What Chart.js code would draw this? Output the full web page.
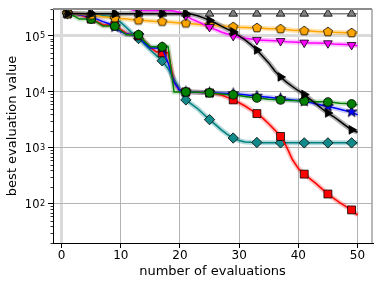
<!DOCTYPE html>
<html>
<head>
<meta charset="UTF-8">
<title>best evaluation value</title>
<script src="https://cdn.jsdelivr.net/npm/chart.js"></script>
<style>
  html, body { margin: 0; padding: 0; background: #fff; }
  #wrap { width: 381px; height: 286px; }
</style>
</head>
<body>
<div id="wrap"><canvas id="chart" width="381" height="286"></canvas></div>
<script>
// number of evaluations (x)
const evaluations = [1, 2, 3, 4, 5, 6, 7, 8, 9, 10, 11, 12, 13, 14, 15, 16, 17, 18, 19, 20,
  21, 22, 23, 24, 25, 26, 27, 28, 29, 30, 31, 32, 33, 34, 35, 36, 37, 38, 39, 40,
  41, 42, 43, 44, 45, 46, 47, 48, 49, 50];

// best value so far, one list per method
const grayVals = [2.5e5, 2.5e5, 2.5e5, 2.5e5, 2.5e5, 2.5e5, 2.5e5, 2.5e5, 2.5e5, 2.5e5,
  2.5e5, 2.5e5, 2.5e5, 2.5e5, 2.5e5, 2.5e5, 2.5e5, 2.5e5, 2.5e5, 2.5e5,
  2.5e5, 2.5e5, 2.5e5, 2.5e5, 2.5e5, 2.5e5, 2.5e5, 2.5e5, 2.5e5, 2.5e5,
  2.5e5, 2.5e5, 2.5e5, 2.5e5, 2.5e5, 2.5e5, 2.5e5, 2.5e5, 2.5e5, 2.5e5,
  2.5e5, 2.5e5, 2.5e5, 2.5e5, 2.5e5, 2.5e5, 2.5e5, 2.5e5, 2.5e5, 2.5e5];
const blackVals = [2.5e5, 2.5e5, 2.5e5, 2.5e5, 2.5e5, 2.5e5, 2.5e5, 2.5e5, 2.5e5, 2.5e5,
  2.5e5, 2.5e5, 2.5e5, 2.5e5, 2.5e5, 2.5e5, 2.5e5, 2.5e5, 2.5e5, 2.5e5,
  2.5e5, 2.45e5, 2.3e5, 2.1e5, 1.9e5, 1.7e5, 1.5e5, 1.32e5, 1.18e5, 1.0e5,
  8.5e4, 7.0e4, 5.6e4, 4.3e4, 3.3e4, 2.4e4, 1.85e4, 1.5e4, 1.25e4, 1.05e4,
  9.0e3, 7.4e3, 6.1e3, 5.0e3, 4.2e3, 3.6e3, 3.0e3, 2.5e3, 2.1e3, 1.9e3];
const magentaVals = [3.6e5, 3.6e5, 3.6e5, 3.6e5, 3.6e5, 3.6e5, 3.6e5, 3.6e5, 3.6e5, 3.6e5,
  3.6e5, 2.9e5, 2.85e5, 2.85e5, 2.85e5, 2.85e5, 2.85e5, 2.85e5, 2.8e5, 2.6e5,
  2.3e5, 2.0e5, 1.8e5, 1.6e5, 1.45e5, 1.3e5, 1.18e5, 1.08e5, 1.0e5, 9.5e4,
  9.1e4, 8.8e4, 8.5e4, 8.4e4, 8.3e4, 8.2e4, 8.1e4, 7.9e4, 7.8e4, 7.7e4,
  7.6e4, 7.5e4, 7.5e4, 7.4e4, 7.4e4, 7.2e4, 7.1e4, 7.0e4, 6.9e4, 6.7e4];
const orangeVals = [2.5e5, 2.5e5, 2.45e5, 2.4e5, 2.35e5, 2.3e5, 2.2e5, 2.15e5, 2.1e5, 2.05e5,
  2.0e5, 1.95e5, 1.9e5, 1.88e5, 1.85e5, 1.82e5, 1.8e5, 1.77e5, 1.74e5, 1.71e5,
  1.68e5, 1.65e5, 1.62e5, 1.6e5, 1.57e5, 1.54e5, 1.51e5, 1.48e5, 1.45e5, 1.43e5,
  1.42e5, 1.4e5, 1.39e5, 1.37e5, 1.35e5, 1.34e5, 1.33e5, 1.3e5, 1.27e5, 1.25e5,
  1.23e5, 1.22e5, 1.2e5, 1.19e5, 1.18e5, 1.16e5, 1.15e5, 1.14e5, 1.13e5, 1.12e5];
const greenVals = [2.5e5, 2.3e5, 2.0e5, 2.0e5, 2.0e5, 1.75e5, 1.5e5, 1.5e5, 1.5e5, 1.25e5,
  1.05e5, 1.05e5, 1.05e5, 8.0e4, 6.4e4, 6.4e4, 6.4e4, 6.4e4, 1.0e4, 1.0e4,
  1.0e4, 1.0e4, 9.9e3, 9.8e3, 9.6e3, 9.4e3, 9.2e3, 9.0e3, 8.9e3, 8.6e3,
  8.3e3, 8.0e3, 7.8e3, 7.6e3, 7.4e3, 7.3e3, 7.2e3, 7.1e3, 7.0e3, 6.95e3,
  6.9e3, 6.8e3, 6.7e3, 6.65e3, 6.6e3, 6.5e3, 6.3e3, 6.2e3, 6.1e3, 5.9e3];
const blueVals = [2.5e5, 2.5e5, 2.4e5, 2.3e5, 2.1e5, 2.0e5, 1.8e5, 1.65e5, 1.45e5, 1.2e5,
  1.08e5, 1.05e5, 1.02e5, 7.5e4, 6.1e4, 6.1e4, 6.1e4, 3.3e4, 1.5e4, 1.05e4,
  1.0e4, 1.0e4, 9.9e3, 9.8e3, 9.7e3, 9.6e3, 9.5e3, 9.4e3, 9.3e3, 9.1e3,
  8.9e3, 8.6e3, 8.4e3, 8.2e3, 8.0e3, 7.8e3, 7.6e3, 7.4e3, 7.2e3, 7.0e3,
  6.8e3, 6.5e3, 6.1e3, 5.8e3, 5.5e3, 5.2e3, 4.9e3, 4.6e3, 4.4e3, 3.9e3];
const redVals = [2.5e5, 2.5e5, 2.4e5, 2.2e5, 2.0e5, 1.8e5, 1.57e5, 1.57e5, 1.55e5, 1.3e5,
  1.1e5, 1.05e5, 1.0e5, 8.0e4, 6.2e4, 5.2e4, 5.0e4, 5.0e4, 1.5e4, 1.05e4,
  1.0e4, 1.0e4, 9.9e3, 9.8e3, 9.6e3, 9.3e3, 8.8e3, 8.0e3, 7.2e3, 6.4e3,
  5.6e3, 4.8e3, 4.1e3, 3.4e3, 2.7e3, 2.1e3, 1.6e3, 1.05e3, 620, 430,
  340, 280, 230, 185, 150, 125, 105, 90, 78, 63];
const tealVals = [2.5e5, 2.5e5, 2.5e5, 2.45e5, 2.4e5, 2.35e5, 2.3e5, 2.25e5, 2.1e5, 1.75e5,
  1.4e5, 1.1e5, 9.0e4, 7.2e4, 5.6e4, 4.5e4, 3.6e4, 2.6e4, 1.7e4, 1.1e4,
  7.2e3, 6.0e3, 5.0e3, 4.0e3, 3.2e3, 2.6e3, 2.1e3, 1.75e3, 1.5e3, 1.35e3,
  1.28e3, 1.26e3, 1.25e3, 1.23e3, 1.23e3, 1.23e3, 1.23e3, 1.23e3, 1.23e3, 1.23e3,
  1.23e3, 1.23e3, 1.23e3, 1.23e3, 1.23e3, 1.23e3, 1.23e3, 1.23e3, 1.23e3, 1.23e3];

const xTicks = [0, 10, 20, 30, 40, 50];
const yTicks = [1e2, 1e3, 1e4, 1e5];

const FONT = 'DejaVu Sans';

// custom marker images (pentagon, star)
function markerCanvas(size, fill, drawPath) {
  const c = document.createElement('canvas');
  c.width = size; c.height = size;
  const g = c.getContext('2d');
  g.translate(size / 2, size / 2);
  g.beginPath();
  drawPath(g);
  g.closePath();
  g.fillStyle = fill;
  g.fill();
  g.lineWidth = 0.8;
  g.strokeStyle = '#000';
  g.stroke();
  return c;
}
const pentagon = markerCanvas(12, '#ffa500', g => {
  for (let k = 0; k < 5; k++) {
    const a = -Math.PI / 2 + k * 2 * Math.PI / 5;
    g.lineTo(4.8 * Math.cos(a), 4.8 * Math.sin(a));
  }
});
const star = markerCanvas(13, '#0000ff', g => {
  for (let k = 0; k < 10; k++) {
    const a = -Math.PI / 2 + k * Math.PI / 5;
    const r = k % 2 === 0 ? 5.8 : 2.4;
    g.lineTo(r * Math.cos(a), r * Math.sin(a));
  }
});

// listed top-most first
const series = [
  { values: blackVals, color: '#000000', fill: '#000000', band: 'rgba(110,110,110,0.55)', style: 'triangle', rot: 90, r: 5 },
  { values: grayVals, color: '#808080', fill: '#808080', band: null, style: 'triangle', rot: 0, r: 5 },
  { values: magentaVals, color: '#ff00ff', fill: '#ff00ff', band: 'rgba(255,0,255,0.25)', style: 'triangle', rot: 180, r: 5 },
  { values: orangeVals, color: '#ffa500', fill: '#ffa500', band: 'rgba(255,165,0,0.3)', style: pentagon, rot: 0, r: 5 },
  { values: greenVals, color: '#008000', fill: '#008000', band: 'rgba(0,128,0,0.2)', style: 'circle', rot: 0, r: 4.4 },
  { values: blueVals, color: '#0000ff', fill: '#0000ff', band: 'rgba(0,0,255,0.2)', style: star, rot: 0, r: 5 },
  { values: redVals, color: '#ff0000', fill: '#ff0000', band: 'rgba(255,0,0,0.25)', style: 'rect', rot: 0, r: 5.6 },
  { values: tealVals, color: '#008080', fill: '#138a8a', band: 'rgba(0,128,128,0.3)', style: 'rectRot', rot: 0, r: 5.2 }
];

const toPoints = vals => evaluations.map((x, i) => ({ x: x, y: vals[i] }));

const datasets = [];
series.forEach((s, k) => {
  if (s.band) {
    datasets.push({
      data: toPoints(s.values),
      borderColor: s.band,
      borderWidth: 5,
      pointRadius: 0,
      tension: 0,
      order: 100 + k
    });
  }
  datasets.push({
    data: toPoints(s.values),
    borderColor: s.color,
    borderWidth: 1.5,
    tension: 0,
    pointStyle: s.style,
    pointRotation: s.rot,
    pointBackgroundColor: s.fill,
    pointBorderColor: '#000',
    pointBorderWidth: 0.8,
    pointRadius: ctx => (ctx.dataIndex % 4 === 0 ? s.r : 0),
    pointHoverRadius: 0,
    order: k + 1
  });
});

// top/right spines, minor log ticks, 10^n labels
const framePlugin = {
  id: 'frame',
  afterDatasetsDraw(chart) {
    const { ctx, chartArea: a } = chart;
    const ys = chart.scales.y;
    ctx.save();
    ctx.strokeStyle = '#8c8c8c';
    ctx.lineWidth = 2;
    ctx.beginPath();
    ctx.moveTo(a.left, a.top);
    ctx.lineTo(a.right, a.top);
    ctx.stroke();
    ctx.strokeStyle = '#a0a0a0';
    ctx.lineWidth = 1.5;
    ctx.beginPath();
    ctx.moveTo(a.right, a.top);
    ctx.lineTo(a.right, a.bottom);
    ctx.stroke();

    ctx.strokeStyle = '#000';
    ctx.lineWidth = 0.8;
    for (let e = 1; e <= 5; e++) {
      for (let m = 2; m <= 9; m++) {
        const v = m * Math.pow(10, e);
        if (v < ys.min || v > ys.max) continue;
        const py = Math.round(ys.getPixelForValue(v)) + 0.5;
        ctx.beginPath();
        ctx.moveTo(a.left - 2.5, py);
        ctx.lineTo(a.left, py);
        ctx.stroke();
      }
    }

    ctx.fillStyle = '#000';
    ctx.textBaseline = 'alphabetic';
    yTicks.forEach(v => {
      const py = ys.getPixelForValue(v);
      ctx.font = '11.5px "' + FONT + '"';
      ctx.textAlign = 'right';
      ctx.fillText('10', 39.5, py + 4.6);
      ctx.font = '8.2px "' + FONT + '"';
      ctx.textAlign = 'left';
      ctx.fillText(String(Math.round(Math.log10(v))), 40, py + 2.3);
    });
    ctx.restore();
  }
};

new Chart(document.getElementById('chart'), {
  type: 'line',
  data: { datasets: datasets },
  options: {
    responsive: false,
    animation: false,
    events: [],
    layout: { padding: { left: 0, right: 9, top: 9, bottom: 0 } },
    plugins: { legend: { display: false }, tooltip: { enabled: false } },
    scales: {
      x: {
        type: 'linear',
        min: -1.45,
        max: 52.45,
        afterBuildTicks: s => { s.ticks = xTicks.map(v => ({ value: v })); },
        afterFit: s => { s.height = 43; },
        ticks: { font: { family: FONT, size: 12 }, color: '#000', padding: 1, maxRotation: 0 },
        grid: {
          color: c => (c.tick && c.tick.value === 0 ? '#dadada' : '#b4b4b4'),
          lineWidth: c => (c.tick && c.tick.value === 0 ? 3 : 1),
          tickColor: '#000',
          tickWidth: 1,
          tickLength: 5
        },
        border: { color: '#000', width: 1 },
        title: { display: true, text: 'number of evaluations', font: { family: FONT, size: 13 }, color: '#000', padding: { top: 0, bottom: 7 } }
      },
      y: {
        type: 'logarithmic',
        min: 20,
        max: 3.03e5,
        afterBuildTicks: s => { s.ticks = yTicks.map(v => ({ value: v, major: true })); },
        afterFit: s => { s.width = 53; },
        ticks: { display: false },
        grid: {
          color: c => (c.tick && c.tick.value === 1e5 ? '#dadada' : '#b4b4b4'),
          lineWidth: c => (c.tick && c.tick.value === 1e5 ? 3 : 1),
          tickColor: '#000',
          tickWidth: 1,
          tickLength: 5
        },
        border: { color: '#000', width: 1 },
        title: { display: true, text: 'best evaluation value', font: { family: FONT, size: 13 }, color: '#000', padding: { top: 5, bottom: 0 } }
      }
    }
  },
  plugins: [framePlugin]
});
</script>
</body>
</html>
